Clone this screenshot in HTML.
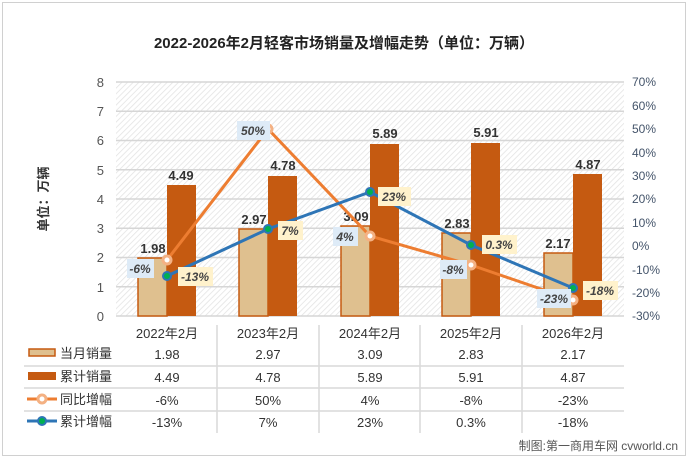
<!DOCTYPE html><html><head><meta charset="utf-8"><style>body{margin:0;background:#fff}svg{display:block;font-family:"Liberation Sans","Noto Sans CJK SC",sans-serif}</style></head><body>
<svg width="688" height="459" viewBox="0 0 688 459">
<defs><pattern id="h" width="4" height="4" patternUnits="userSpaceOnUse" patternTransform="rotate(45)"><rect width="4" height="4" fill="#fff"/><line x1="0" y1="0" x2="0" y2="4" stroke="#e2e2e2" stroke-width="1.5"/></pattern></defs>
<rect x="2.5" y="2.5" width="683" height="453" fill="#fff" stroke="#d0d0d0"/>
<text x="344" y="48" font-size="15" font-weight="bold" text-anchor="middle" fill="#222">2022-2026年2月轻客市场销量及增幅走势（单位：万辆）</text>
<rect x="116" y="82" width="508" height="234" fill="url(#h)"/>
<g stroke="#d6d6d6" stroke-width="1.5">
<line x1="116" x2="624" y1="82" y2="82"/><line x1="116" x2="624" y1="111.25" y2="111.25"/><line x1="116" x2="624" y1="140.5" y2="140.5"/><line x1="116" x2="624" y1="169.75" y2="169.75"/><line x1="116" x2="624" y1="199" y2="199"/><line x1="116" x2="624" y1="228.25" y2="228.25"/><line x1="116" x2="624" y1="257.5" y2="257.5"/><line x1="116" x2="624" y1="286.75" y2="286.75"/><line x1="116" x2="624" y1="316" y2="316"/>
</g>
<g font-size="13" fill="#555" text-anchor="end">
<text x="104" y="87">8</text><text x="104" y="116">7</text><text x="104" y="145">6</text><text x="104" y="175">5</text><text x="104" y="204">4</text><text x="104" y="233">3</text><text x="104" y="262">2</text><text x="104" y="292">1</text><text x="104" y="321">0</text></g>
<g font-size="12" fill="#44546a" text-anchor="start">
<text x="632" y="86">70%</text><text x="632" y="110">60%</text><text x="632" y="133">50%</text><text x="632" y="157">40%</text><text x="632" y="180">30%</text><text x="632" y="203">20%</text><text x="632" y="227">10%</text><text x="632" y="250">0%</text><text x="632" y="274">-10%</text><text x="632" y="297">-20%</text><text x="632" y="320">-30%</text></g>
<text transform="translate(48,199) rotate(-90)" font-size="13" font-weight="bold" fill="#333" text-anchor="middle">单位：万辆</text>
<g stroke="#c55a11" stroke-width="1.5" fill="#dfc08f">
<rect x="138" y="258" width="29" height="58"/><rect x="239" y="229" width="29" height="87"/><rect x="341" y="226" width="29" height="90"/><rect x="442" y="233" width="29" height="83"/><rect x="544" y="253" width="29" height="63"/></g>
<g fill="#c55a11">
<rect x="167" y="185" width="29" height="131"/><rect x="268" y="176" width="29" height="140"/><rect x="370" y="144" width="29" height="172"/><rect x="471" y="143" width="29" height="173"/><rect x="573" y="174" width="29" height="142"/></g>
<g font-size="13" font-weight="bold" fill="#333" text-anchor="middle">
<text x="153" y="253">1.98</text><text x="181" y="180">4.49</text><text x="254" y="224">2.97</text><text x="283" y="170">4.78</text><text x="356" y="221">3.09</text><text x="385" y="138">5.89</text><text x="457" y="228">2.83</text><text x="486" y="137">5.91</text><text x="558" y="248">2.17</text><text x="588" y="169">4.87</text></g>
<polyline points="167,260 268,129 370,236 471,265 573,300" fill="none" stroke="#ed7d31" stroke-width="3"/>
<polyline points="167,276 268,229 370,192 471,245 573,288" fill="none" stroke="#2e75b6" stroke-width="3"/>
<g fill="#fff" stroke="#f4b183" stroke-width="3"><circle cx="167" cy="260" r="4"/><circle cx="268" cy="129" r="4"/><circle cx="370" cy="236" r="4"/><circle cx="471" cy="265" r="4"/><circle cx="573" cy="300" r="4"/></g>
<g fill="#00b050" stroke="#2e75b6" stroke-width="2"><circle cx="167" cy="276" r="4"/><circle cx="268" cy="229" r="4"/><circle cx="370" cy="192" r="4"/><circle cx="471" cy="245" r="4"/><circle cx="573" cy="288" r="4"/></g>
<g font-size="12" font-weight="bold" font-style="italic" fill="#444" text-anchor="middle">
<rect x="127" y="259" width="27" height="19" fill="#deebf7"/><text x="140" y="273">-6%</text>
<rect x="178" y="267" width="35" height="19" fill="#fff2cc"/><text x="195" y="281">-13%</text>
<rect x="237" y="121" width="33" height="19" fill="#deebf7"/><text x="253" y="135">50%</text>
<rect x="278" y="221" width="25" height="19" fill="#fff2cc"/><text x="290" y="235">7%</text>
<rect x="333" y="227" width="25" height="19" fill="#deebf7"/><text x="345" y="241">4%</text>
<rect x="378" y="187" width="33" height="19" fill="#fff2cc"/><text x="394" y="201">23%</text>
<rect x="440" y="260" width="27" height="19" fill="#deebf7"/><text x="453" y="274">-8%</text>
<rect x="482" y="235" width="35" height="19" fill="#fff2cc"/><text x="499" y="249">0.3%</text>
<rect x="537" y="289" width="34" height="19" fill="#deebf7"/><text x="554" y="303">-23%</text>
<rect x="583" y="281" width="35" height="19" fill="#fff2cc"/><text x="600" y="295">-18%</text></g>
<g stroke="#d9d9d9" stroke-width="1.5">
<line x1="217" x2="217" y1="325" y2="433"/><line x1="319" x2="319" y1="325" y2="433"/><line x1="420" x2="420" y1="325" y2="433"/><line x1="522" x2="522" y1="325" y2="433"/>
<line x1="24" x2="624" y1="366" y2="366"/><line x1="24" x2="624" y1="388" y2="388"/><line x1="24" x2="624" y1="411" y2="411"/></g>
<g font-size="13" fill="#333" text-anchor="middle">
<text x="167" y="338">2022年2月</text><text x="268" y="338">2023年2月</text><text x="370" y="338">2024年2月</text><text x="471" y="338">2025年2月</text><text x="573" y="338">2026年2月</text>
<text x="167" y="359">1.98</text><text x="268" y="359">2.97</text><text x="370" y="359">3.09</text><text x="471" y="359">2.83</text><text x="573" y="359">2.17</text>
<text x="167" y="382">4.49</text><text x="268" y="382">4.78</text><text x="370" y="382">5.89</text><text x="471" y="382">5.91</text><text x="573" y="382">4.87</text>
<text x="167" y="405">-6%</text><text x="268" y="405">50%</text><text x="370" y="405">4%</text><text x="471" y="405">-8%</text><text x="573" y="405">-23%</text>
<text x="167" y="427">-13%</text><text x="268" y="427">7%</text><text x="370" y="427">23%</text><text x="471" y="427">0.3%</text><text x="573" y="427">-18%</text></g>
<rect x="29" y="349" width="26" height="7" fill="#dfc08f" stroke="#c55a11" stroke-width="1.5"/>
<rect x="28" y="372" width="28" height="8" fill="#c55a11"/>
<line x1="27" x2="57" y1="399" y2="399" stroke="#ed7d31" stroke-width="3"/><circle cx="42" cy="399" r="4" fill="#fff" stroke="#f4b183" stroke-width="3"/>
<line x1="27" x2="57" y1="421" y2="421" stroke="#2e75b6" stroke-width="3"/><circle cx="42" cy="421" r="4" fill="#00b050" stroke="#2e75b6" stroke-width="2"/>
<g font-size="13" fill="#333"><text x="60" y="358">当月销量</text><text x="60" y="381">累计销量</text><text x="60" y="404">同比增幅</text><text x="60" y="426">累计增幅</text></g>
<text x="678" y="450" font-size="12" fill="#555" text-anchor="end">制图:第一商用车网 cvworld.cn</text>
</svg></body></html>
